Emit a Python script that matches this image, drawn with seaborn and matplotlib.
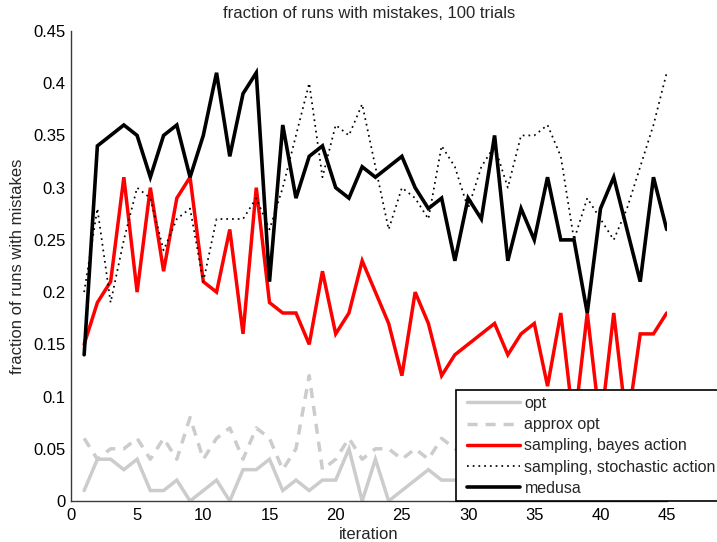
import matplotlib
matplotlib.use("Agg")
import matplotlib.pyplot as plt
import seaborn as sns
import pandas as pd
from matplotlib.ticker import FixedLocator, FixedFormatter
from matplotlib.patches import Rectangle

# ---- data ----
iterations = list(range(1, 46))

opt = [0.01, 0.04, 0.04, 0.03, 0.04, 0.01, 0.01, 0.02, 0.00, 0.01,
       0.02, 0.00, 0.03, 0.03, 0.04, 0.01, 0.02, 0.01, 0.02, 0.02,
       0.05, 0.00, 0.04, 0.00, 0.01, 0.02, 0.03, 0.02, 0.02, 0.02,
       0.01, 0.03, 0.02, 0.01, 0.02, 0.03, 0.01, 0.02, 0.02, 0.01,
       0.03, 0.02, 0.01, 0.02, 0.02]

approx_opt = [0.06, 0.04, 0.05, 0.05, 0.06, 0.04, 0.06, 0.04, 0.08, 0.04,
              0.06, 0.07, 0.04, 0.07, 0.06, 0.03, 0.05, 0.12, 0.03, 0.04,
              0.06, 0.04, 0.05, 0.05, 0.04, 0.05, 0.04, 0.06, 0.05, 0.05,
              0.04, 0.06, 0.05, 0.04, 0.05, 0.06, 0.04, 0.05, 0.05, 0.04,
              0.06, 0.05, 0.04, 0.05, 0.05]

bayes = [0.15, 0.19, 0.21, 0.31, 0.20, 0.30, 0.22, 0.29, 0.31, 0.21,
         0.20, 0.26, 0.16, 0.30, 0.19, 0.18, 0.18, 0.15, 0.22, 0.16,
         0.18, 0.23, 0.20, 0.17, 0.12, 0.20, 0.17, 0.12, 0.14, 0.15,
         0.16, 0.17, 0.14, 0.16, 0.17, 0.11, 0.18, 0.07, 0.18, 0.07,
         0.18, 0.07, 0.16, 0.16, 0.18]

stochastic = [0.20, 0.28, 0.19, 0.25, 0.30, 0.29, 0.24, 0.27, 0.28, 0.21,
              0.27, 0.27, 0.27, 0.29, 0.26, 0.30, 0.35, 0.40, 0.31, 0.36,
              0.35, 0.38, 0.32, 0.26, 0.30, 0.29, 0.27, 0.34, 0.32, 0.28,
              0.32, 0.34, 0.30, 0.35, 0.35, 0.36, 0.33, 0.25, 0.29, 0.27,
              0.25, 0.28, 0.32, 0.36, 0.41]

medusa = [0.14, 0.34, 0.35, 0.36, 0.35, 0.31, 0.35, 0.36, 0.31, 0.35,
          0.41, 0.33, 0.39, 0.41, 0.21, 0.36, 0.29, 0.33, 0.34, 0.30,
          0.29, 0.32, 0.31, 0.32, 0.33, 0.30, 0.28, 0.29, 0.23, 0.29,
          0.27, 0.35, 0.23, 0.28, 0.25, 0.31, 0.25, 0.25, 0.18, 0.28,
          0.31, 0.26, 0.21, 0.31, 0.26]

series_labels = ["opt", "approx opt", "sampling, bayes action",
                 "sampling, stochastic action", "medusa"]

xticks = [0, 5, 10, 15, 20, 25, 30, 35, 40, 45]
yticks = [0, 0.05, 0.1, 0.15, 0.2, 0.25, 0.3, 0.35, 0.4, 0.45]
ytick_labels = ["0", "0.05", "0.1", "0.15", "0.2", "0.25", "0.3", "0.35", "0.4", "0.45"]

title = "fraction of runs with mistakes, 100 trials"
xlabel = "iteration"
ylabel = "fraction of runs with mistakes"

# ---- styling ----
sns.set_style("white")
plt.rcParams["font.family"] = ["Liberation Sans", "DejaVu Sans"]
FS = 12
LFS = 11.5
plt.rcParams["font.size"] = FS

W, H = 717, 542
fig = plt.figure(figsize=(W / 100, H / 100), dpi=100)
x0, x_end, y_top, y_bot = 70.9, 70.9 + 45 * 13.24, 31.0, 501.0
ax = fig.add_axes([x0 / W, (H - y_bot) / H, (x_end - x0) / W, (y_bot - y_top) / H])

styles = [
    dict(color="#cccccc", linewidth=2.5, linestyle="-"),
    dict(color="#cccccc", linewidth=2.5, linestyle=(0, (2.9, 2.3))),
    dict(color="#ff0000", linewidth=2.5, linestyle="-"),
    dict(color="#000000", linewidth=1.25, linestyle=(0, (1.0, 2.3))),
    dict(color="#000000", linewidth=2.6, linestyle="-"),
]
all_series = [opt, approx_opt, bayes, stochastic, medusa]

for vals, lab, st in zip(all_series, series_labels, styles):
    df = pd.DataFrame({"iteration": iterations, "value": vals})
    sns.lineplot(data=df, x="iteration", y="value", ax=ax, label=lab,
                 solid_joinstyle="miter", **st)

ax.set_xlim(0, 45)
ax.set_ylim(0, 0.45)
ax.xaxis.set_major_locator(FixedLocator(xticks))
ax.yaxis.set_major_locator(FixedLocator(yticks))
ax.yaxis.set_major_formatter(FixedFormatter(ytick_labels))

for s in ["top", "right"]:
    ax.spines[s].set_visible(False)
for s in ["left", "bottom"]:
    ax.spines[s].set_color("#3a3a3a")
    ax.spines[s].set_linewidth(1.0)

ax.tick_params(axis="both", direction="in", length=4, width=1, color="#3a3a3a",
               labelsize=FS, labelcolor="black")
ax.tick_params(axis="x", pad=5)
ax.tick_params(axis="y", pad=4)

ax.set_xlabel(xlabel, fontsize=FS, labelpad=3)
ax.set_ylabel(ylabel, fontsize=FS, labelpad=6)
ax.set_title(title, fontsize=FS, pad=9)

# legend frame drawn as a separate white box (extends past the figure edge)
frame = Rectangle((456 / W, (H - 501) / H), 300 / W, 111 / H,
                  transform=fig.transFigure, facecolor="white",
                  edgecolor="black", linewidth=1.2, clip_on=False, zorder=9)
ax.add_patch(frame)

leg = ax.legend(loc="upper left", bbox_to_anchor=(467 / W, (H - 396) / H),
                bbox_transform=fig.transFigure, fontsize=LFS, frameon=False,
                handlelength=3.3, handletextpad=0.3, labelspacing=0.39,
                borderpad=0, borderaxespad=0)
leg.set_zorder(10)

fig.savefig("out.png", dpi=100)
